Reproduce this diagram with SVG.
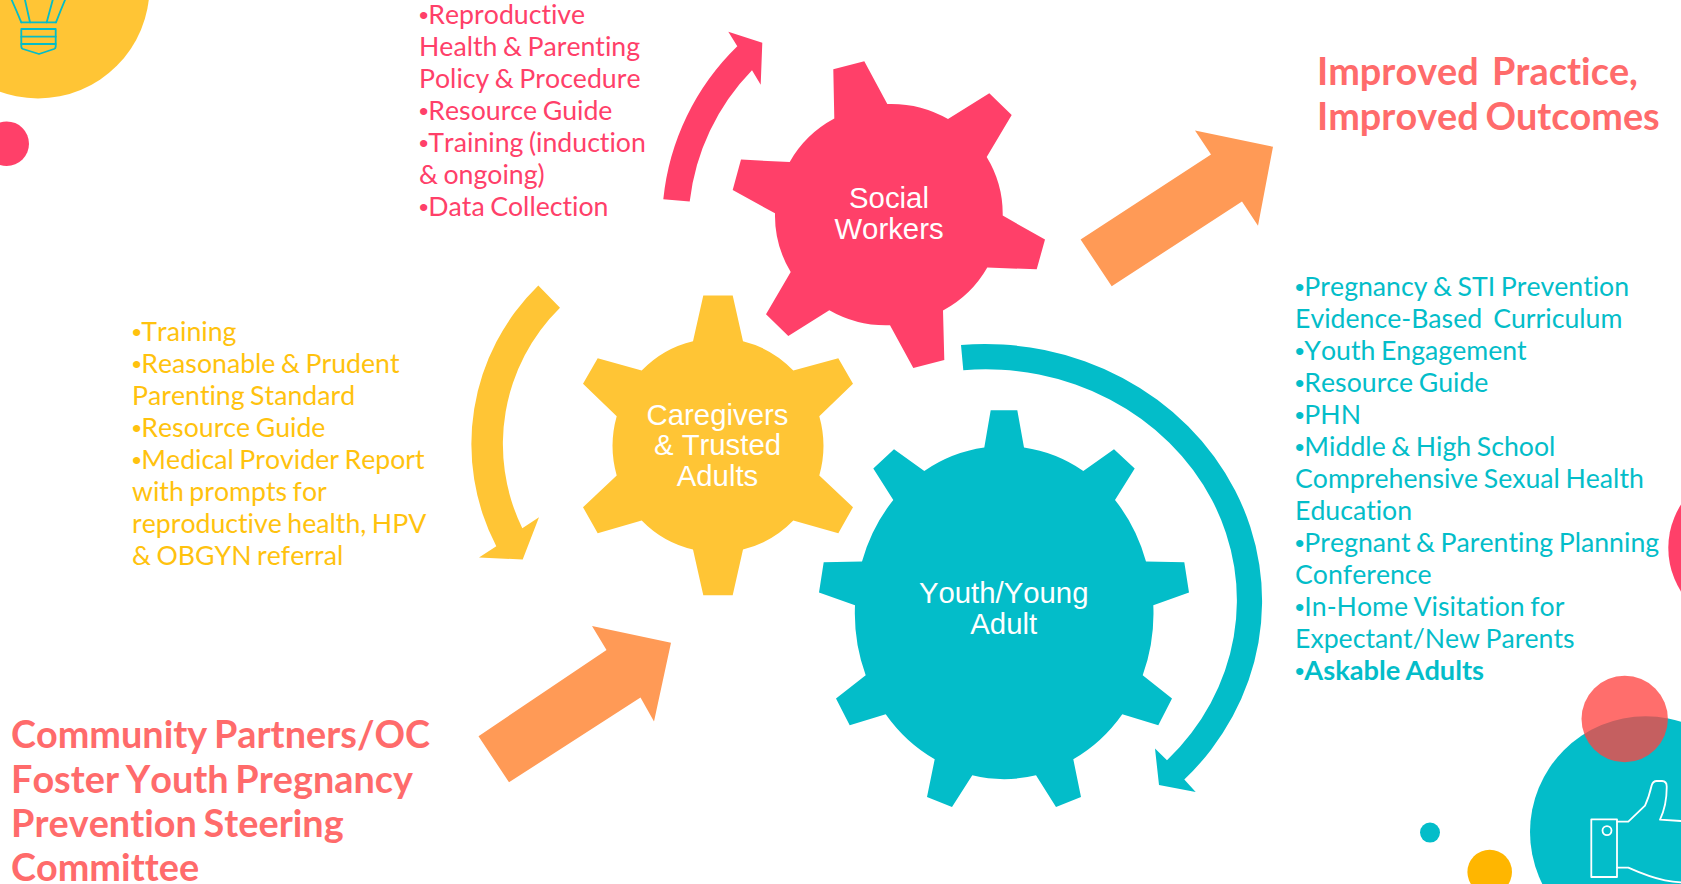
<svg xmlns="http://www.w3.org/2000/svg" width="1681" height="884" viewBox="0 0 1681 884">
<style>
text{font-family:"Lato","Liberation Sans",sans-serif;white-space:pre;font-kerning:none;font-variant-ligatures:none}
.list{font-size:26.67px;word-spacing:-1.300px}
.b{font-family:"Liberation Sans",Arial,sans-serif;font-weight:400}
.head{font-size:37.800px;font-weight:700;fill:#FF6B6B;word-spacing:-2.500px}
.gear{font-family:"Liberation Sans",Arial,sans-serif;font-size:29.33px;fill:#fff;text-anchor:middle}
.pink{fill:#FF4069}.yellow{fill:#FFC535}.teal{fill:#03BDC9}.orange{fill:#FF9A56}
.ico{fill:none;stroke-linejoin:round;stroke-linecap:round}
</style>
<rect width="1681" height="884" fill="#fff"/>
<g id="decor">
<circle cx="38" cy="-13" r="111.500" class="yellow"/>
<circle cx="6.700" cy="143.700" r="22.300" class="pink"/>
<circle cx="1748.800" cy="548" r="80.500" class="pink"/>
<circle cx="1645.700" cy="832" r="115.700" class="teal"/>
<circle cx="1624.700" cy="719" r="43.200" fill="#FF4341" fill-opacity=".774"/>
<circle cx="1430" cy="832.600" r="10" class="teal"/>
<circle cx="1489.700" cy="872" r="22.300" fill="#FFB600"/>
<g class="ico" stroke="#03BDC9" stroke-width="1.800">
<path d="M21.300 29H55.700V46.700Q55.700 48.300 54 49L39 54L23 49Q21.300 48.300 21.300 46.700Z"/>
<path d="M21.300 36.700H55.700M21.300 44H55.700M21.300 22.300H56"/>
<path d="M11.700 0Q17 12 21.300 22.300M25 0L30 22.300M52.700 0L46.700 22.300M65 0Q60 12 56 22.300"/>
</g>
<g class="ico" stroke="#fff" stroke-width="1.800">
<rect x="1591.300" y="819.300" width="25.700" height="57.700"/>
<circle cx="1607" cy="830.600" r="4.500"/>
<path d="M1617.300 821.600H1628.300L1645 805.600Q1649 797 1651.700 785.300Q1653 781 1656.700 781H1662Q1666.700 781.300 1666.700 786.300Q1667 805 1660 819.600L1681 821"/>
<path d="M1617.300 867.600H1628.300Q1650 877.300 1665 880.300Q1673 881.800 1681 882.300"/>
</g>
</g>
<g id="connectors">
<path id="arrow-pink" class="pink" d="M663.300 199.200A248 248 0 0 1 737.300 46.200L728.300 31.800L762.300 42.800L760.700 84.800L752 70.200A225 225 0 0 0 689.700 201.500Z"/>
<path id="arrow-yellow" class="yellow" d="M538.300 285.500A221.400 221.400 0 0 0 496.300 546.200L479 557.500L522.700 559.500L539 517.200L522.300 528.200A191.400 191.400 0 0 1 560 307.800Z"/>
<path id="arrow-teal" class="teal" d="M961 345A277 257 0 0 1 1184.300 779.600L1195.700 792L1159 785L1155 748.600L1167 760.300A251 231 0 0 0 963.300 370.300Z"/>
<path id="arrow-orange-in" class="orange" d="M478.500 736.200L509 782.300L640.500 697.500L654 721.500L671 642.800L592 626.100L606.500 650.100Z"/>
<path id="arrow-orange-out" class="orange" d="M1080.600 239.500L1111.700 286.200L1242 201.500L1258 225.800L1273 146.800L1195 130.500L1211 154.500Z"/>
</g>
<g id="gear-social-workers">
<path class="pink" d="M833.300 69.300L864.300 61.300L887.300 104A113 111 0 0 1 948 119L989.300 93.300L1011.700 115L986.700 157A113 111 0 0 1 1002.700 215.600L1045 239.600L1036.700 269.300L987.300 267.600A113 111 0 0 1 943 310.600L944.300 360L913.300 368L890 325.300A113 111 0 0 1 829.300 310.300L788.300 336L766 314.300L790.700 272A113 111 0 0 1 775 213.300L732.700 190L741 159.600L789.700 162A113 111 0 0 1 834.300 118.600Z"/>
<text class="gear" x="889" y="208">Social</text>
<text class="gear" x="889" y="239">Workers</text>
</g>
<g id="gear-caregivers">
<path class="yellow" d="M703.300 295.500H732.700L743 341.200A105 107 0 0 1 793.300 370.500L838.300 358.200L853 383.800L819.300 416.200A105 107 0 0 1 819.300 475.500L853 507.200L838.300 533.200L793.300 520.500A105 107 0 0 1 743 549.500L732.700 595.200H703.300L693 549.500A105 107 0 0 1 641.700 520.500L597.700 533.200L583 507.200L616.700 475.500A105 107 0 0 1 616.700 416.200L583 383.800L597.700 358.200L641.700 370.500A105 107 0 0 1 693 341.200Z"/>
<text class="gear" x="717.500" y="424.800">Caregivers</text>
<text class="gear" x="717.500" y="455">&amp; Trusted</text>
<text class="gear" x="717.500" y="485.700">Adults</text>
</g>
<g id="gear-youth">
<path class="teal" d="M990.700 410.300H1017.300L1024 447.600A149.500 165.500 0 0 1 1083.300 471L1114 449.300L1134.700 468.600L1115 500A149.500 165.500 0 0 1 1146 561.600L1184.300 562.300L1189 592.600L1153.300 605.300A149.500 165.500 0 0 1 1142.700 675.300L1172 698.600L1158.300 725.300L1122.300 714.300A149.500 165.500 0 0 1 1073.300 759.300L1081 797L1056 807L1036 775.300A149.500 165.500 0 0 1 972.300 775.300L952 807L927 797L934.700 759.300A149.500 165.500 0 0 1 885.700 714.300L849.700 725.300L836 698.600L865.700 675.300A149.500 165.500 0 0 1 855 605.300L819 592.600L823.700 562.300L862 561.600A149.500 165.500 0 0 1 893.300 500L873.300 468.600L894 449.300L924.300 471A149.500 165.500 0 0 1 984.300 447.600Z"/>
<text class="gear" x="1003.700" y="602.700">Youth/Young</text>
<text class="gear" x="1003.700" y="634">Adult</text>
</g>
<g id="list-social-workers" class="list pink">
<text x="419" y="24.300"><tspan class="b">•</tspan>Reproductive</text>
<text x="419" y="56.300">Health &amp; Parenting</text>
<text x="419" y="88.300">Policy &amp; Procedure</text>
<text x="419" y="120.300"><tspan class="b">•</tspan>Resource Guide</text>
<text x="419" y="152.300"><tspan class="b">•</tspan>Training (induction</text>
<text x="419" y="184.300">&amp; ongoing)</text>
<text x="419" y="216.300"><tspan class="b">•</tspan>Data Collection</text>
</g>
<g id="list-caregivers" class="list" fill="#FFC20E">
<text x="132" y="340.800"><tspan class="b">•</tspan>Training</text>
<text x="132" y="372.800"><tspan class="b">•</tspan>Reasonable &amp; Prudent</text>
<text x="132" y="404.800">Parenting Standard</text>
<text x="132" y="436.800"><tspan class="b">•</tspan>Resource Guide</text>
<text x="132" y="468.800"><tspan class="b">•</tspan>Medical Provider Report</text>
<text x="132" y="500.800">with prompts for</text>
<text x="132" y="532.800">reproductive health, HPV</text>
<text x="132" y="564.800">&amp; OBGYN referral</text>
</g>
<g id="list-youth" class="list teal">
<text x="1295" y="296.300"><tspan class="b">•</tspan>Pregnancy &amp; STI Prevention</text>
<text x="1295" y="328.300">Evidence-Based  Curriculum</text>
<text x="1295" y="360.300"><tspan class="b">•</tspan>Youth Engagement</text>
<text x="1295" y="392.300"><tspan class="b">•</tspan>Resource Guide</text>
<text x="1295" y="424.300"><tspan class="b">•</tspan>PHN</text>
<text x="1295" y="456.300"><tspan class="b">•</tspan>Middle &amp; High School</text>
<text x="1295" y="488.300">Comprehensive Sexual Health</text>
<text x="1295" y="520.300">Education</text>
<text x="1295" y="552.300"><tspan class="b">•</tspan>Pregnant &amp; Parenting Planning</text>
<text x="1295" y="584.300">Conference</text>
<text x="1295" y="616.300"><tspan class="b">•</tspan>In-Home Visitation for</text>
<text x="1295" y="648.300">Expectant/New Parents</text>
<text x="1295" y="680.300"><tspan class="b">•</tspan><tspan font-weight="700" font-size="27.200px">Askable Adults</tspan></text>
</g>
<g id="heading-community">
<text class="head" x="11" y="747.500">Community Partners/OC</text>
<text class="head" x="11" y="792.500">Foster Youth Pregnancy</text>
<text class="head" x="11" y="836.800">Prevention Steering</text>
<text class="head" x="11" y="881">Committee</text>
</g>
<g id="heading-outcomes">
<text class="head" x="1317" y="84.800">Improved  Practice,</text>
<text class="head" x="1317" y="129.800">Improved Outcomes</text>
</g>
</svg>
